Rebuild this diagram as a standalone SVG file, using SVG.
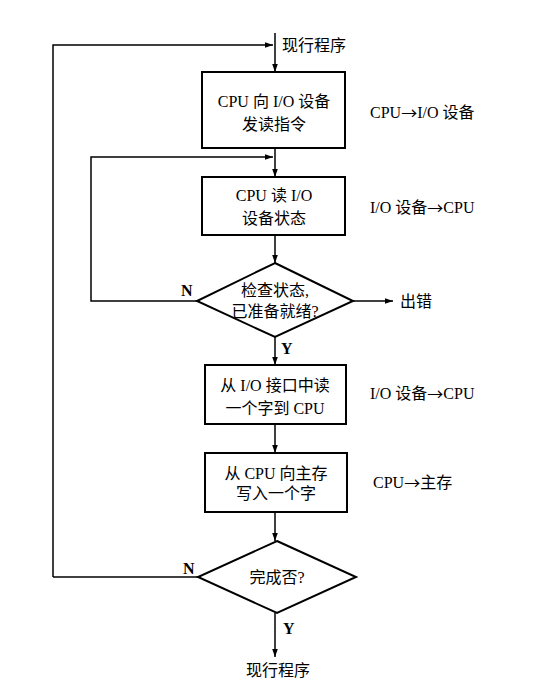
<svg xmlns="http://www.w3.org/2000/svg" width="560" height="696" viewBox="0 0 560 696">
<defs>
<marker id="arr" viewBox="0 0 10 10" refX="10" refY="5" markerWidth="8" markerHeight="8" markerUnits="userSpaceOnUse" orient="auto">
<path d="M0,1.5 L10,5 L0,8.5 Z" fill="#000"/>
</marker>
</defs>
<style>
.box{fill:#fff;stroke:#000;stroke-width:2}
.ln{fill:none;stroke:#000;stroke-width:1.5}
text{font-family:"Liberation Serif","Noto Sans CJK SC",serif;font-size:16px;fill:#000;dominant-baseline:central}
.c{text-anchor:middle}
.b{font-weight:bold}
.a{font-family:"Noto Sans CJK SC",sans-serif}
</style>
<rect width="560" height="696" fill="#fff"/>
<g id="connectors">
<path class="ln" d="M275,33 L275,72" marker-end="url(#arr)"/>
<path class="ln" d="M53,577 L53,45 L273,45" marker-end="url(#arr)"/>
<path class="ln" d="M275,148 L275,177" marker-end="url(#arr)"/>
<path class="ln" d="M197,301 L91,301 L91,157 L273,157" marker-end="url(#arr)"/>
<path class="ln" d="M275,235 L275,263" marker-end="url(#arr)"/>
<path class="ln" d="M353,301 L393,301" marker-end="url(#arr)"/>
<path class="ln" d="M275,337 L275,365" marker-end="url(#arr)"/>
<path class="ln" d="M275,424 L275,453" marker-end="url(#arr)"/>
<path class="ln" d="M275,512 L275,541" marker-end="url(#arr)"/>
<path class="ln" d="M198,577 L53,577"/>
<path class="ln" d="M275,613 L275,657" marker-end="url(#arr)"/>
</g>
<g id="start">
<text x="282" y="45">现行程序</text>
</g>
<g id="n1">
<rect class="box" x="202" y="72" width="143" height="76"/>
<text class="c" x="274" y="101">CPU 向 I/O 设备</text>
<text class="c" x="274" y="124">发读指令</text>
<text x="370" y="112">CPU<tspan class="a">→</tspan>I/O 设备</text>
</g>
<g id="n2">
<rect class="box" x="202" y="177" width="143" height="58"/>
<text class="c" x="274" y="195">CPU 读 I/O</text>
<text class="c" x="274" y="218">设备状态</text>
<text x="370" y="207">I/O 设备<tspan class="a">→</tspan>CPU</text>
</g>
<g id="d1">
<polygon class="box" points="275,263 353,301 275,337 197,301"/>
<text class="c" x="275" y="290">检查状态,</text>
<text class="c" x="275" y="311">已准备就绪?</text>
<text x="181" y="290" class="b">N</text>
<text x="281" y="348" class="b">Y</text>
</g>
<g id="err">
<text x="400" y="301">出错</text>
</g>
<g id="n3">
<rect class="box" x="205" y="365" width="141" height="59"/>
<text class="c" x="275" y="385">从 I/O 接口中读</text>
<text class="c" x="275" y="408">一个字到 CPU</text>
<text x="370" y="393">I/O 设备<tspan class="a">→</tspan>CPU</text>
</g>
<g id="n4">
<rect class="box" x="205" y="453" width="142" height="59"/>
<text class="c" x="276" y="473">从 CPU 向主存</text>
<text class="c" x="276" y="493">写入一个字</text>
<text x="373" y="482">CPU<tspan class="a">→</tspan>主存</text>
</g>
<g id="d2">
<polygon class="box" points="277,541 356,577 277,613 198,577"/>
<text class="c" x="277" y="577">完成否?</text>
<text x="183" y="568" class="b">N</text>
<text x="283" y="628" class="b">Y</text>
</g>
<g id="end">
<text class="c" x="278" y="670">现行程序</text>
</g>
</svg>
